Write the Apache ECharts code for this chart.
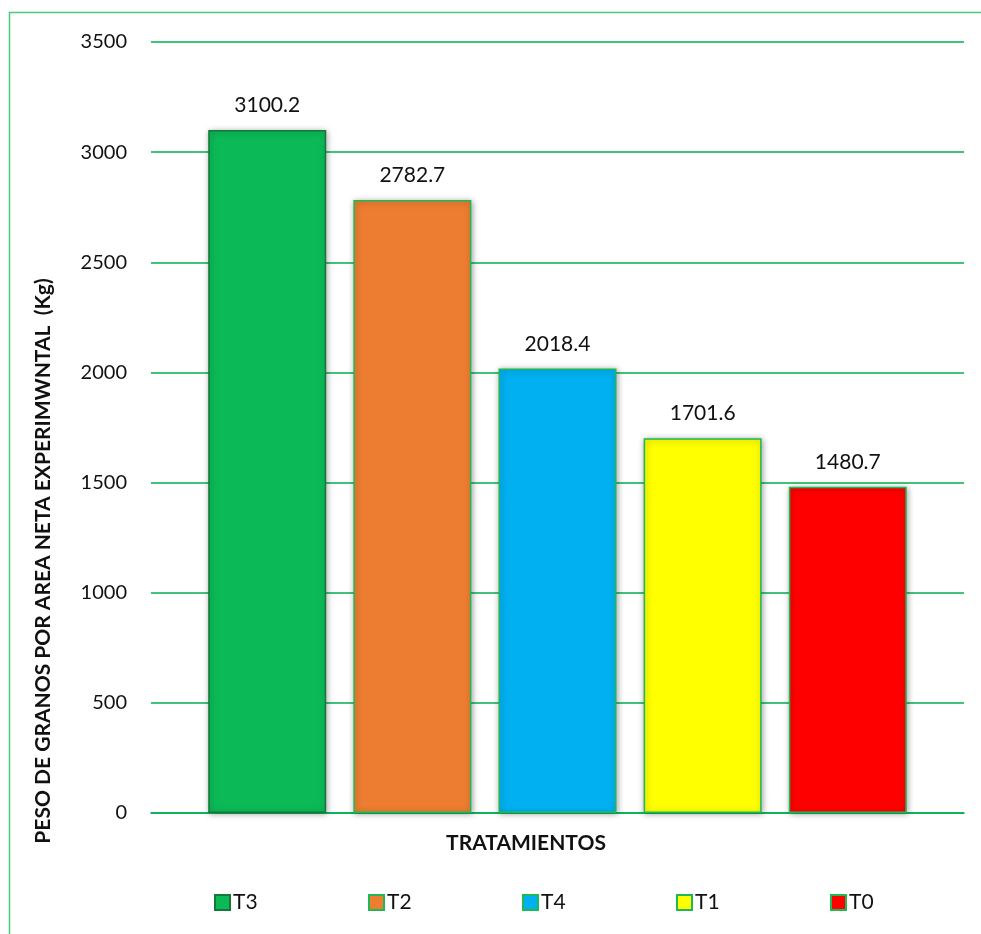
<!DOCTYPE html>
<html>
<head>
<meta charset="utf-8">
<script src="https://cdn.jsdelivr.net/npm/echarts@6/dist/echarts.min.js"></script>
<style>html,body{margin:0;padding:0;background:#fff;}#c{width:981px;height:934px;}</style>
</head>
<body>
<div id="c"></div>
<script>
const categories = [''];
const seriesNames = ['T3', 'T2', 'T4', 'T1', 'T0'];
const seriesValues = [3100.2, 2782.7, 2018.4, 1701.6, 1480.7];
const seriesColors = ['#0BBA57', '#ED7D31', '#00B0F0', '#FFFF00', '#FF0000'];
const seriesBorders = ['#17763A', '#1DB954', '#1DB954', '#1DB954', '#1DB954'];
const yTicks = { min: 0, max: 3500, interval: 500 };
const yTitle = 'PESO DE GRANOS POR AREA NETA EXPERIMWNTAL  (Kg)';
const xTitle = 'TRATAMIENTOS';

const FONT = 'Lato';
const chart = echarts.init(document.getElementById('c'), null, { renderer: 'canvas' });
const series = seriesNames.map((name, i) => ({
  name: name,
  type: 'bar',
  data: [seriesValues[i]],
  barWidth: 118,
  barGap: '23%',
  itemStyle: {
    color: seriesColors[i],
    borderColor: seriesBorders[i],
    borderWidth: 1.5,
    shadowBlur: 6,
    shadowColor: 'rgba(0,0,0,0.35)',
    shadowOffsetX: 1,
    shadowOffsetY: 1
  },
  label: {
    show: true,
    position: 'top',
    distance: 14,
    formatter: p => p.value.toFixed(1),
    fontFamily: FONT,
    fontSize: 21,
    color: '#111'
  }
}));

const legends = seriesNames.map((name, i) => ({
  data: [name],
  top: 892,
  left: 214 + 154 * i,
  padding: 0,
  itemWidth: 15,
  itemHeight: 15,
  icon: 'rect',
  itemStyle: { borderWidth: 2, shadowBlur: 0 },
  textStyle: { fontFamily: FONT, fontSize: 21, color: '#111', padding: [0, 0, 0, -2] }
}));

chart.setOption({
  animation: false,
  backgroundColor: '#fff',
  graphic: [{
    type: 'rect',
    shape: { x: 9.5, y: 12.5, width: 1000, height: 1000 },
    style: { fill: 'none', stroke: '#4CC77F', lineWidth: 1.5 },
    silent: true
  }, {
    type: 'text',
    x: 43, y: 561,
    rotation: Math.PI / 2,
    style: {
      text: yTitle, fontFamily: FONT, fontSize: 21, fontWeight: 'bold', fill: '#111',
      align: 'center', verticalAlign: 'middle'
    },
    silent: true
  }, {
    type: 'text',
    x: 526, y: 843,
    style: {
      text: xTitle, fontFamily: FONT, fontSize: 21, fontWeight: 'bold', fill: '#111',
      align: 'center', verticalAlign: 'middle'
    },
    silent: true
  }],
  grid: { left: 151, right: 17, top: 42, bottom: 121 },
  legend: legends,
  xAxis: {
    type: 'category',
    data: categories,
    axisLine: { show: true, lineStyle: { color: '#00B050', width: 1.5 } },
    axisTick: { show: false },
    axisLabel: { show: false }
  },
  yAxis: {
    type: 'value',
    min: yTicks.min,
    max: yTicks.max,
    interval: yTicks.interval,
    axisLine: { show: false },
    axisTick: { show: false },
    axisLabel: { margin: 24, fontFamily: FONT, fontSize: 20, color: '#111', formatter: v => String(v) },
    splitLine: { show: true, lineStyle: { color: '#00B050', width: 1.5 } }
  },
  series: series
});
</script>
</body>
</html>
